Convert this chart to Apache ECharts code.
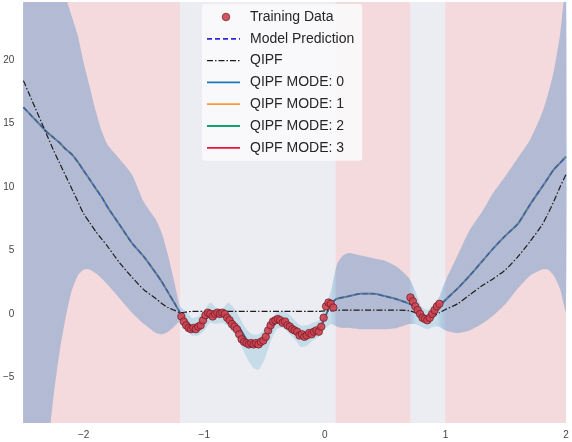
<!DOCTYPE html>
<html>
<head>
<meta charset="utf-8">
<script src="https://cdn.jsdelivr.net/npm/echarts@6/dist/echarts.min.js"></script>
<style>
  html, body { margin: 0; padding: 0; background: #fff; }
  #chart { width: 572px; height: 442px; }
</style>
</head>
<body>
<div id="chart"></div>
<script>
// x grid for the curves
const xs = [
  -2.5, -2.45, -2.4, -2.35, -2.3, -2.25, -2.2, -2.15, -2.1, -2.05,
  -2.0, -1.95, -1.9, -1.85, -1.8, -1.7, -1.6, -1.5, -1.4, -1.35,
  -1.3, -1.25, -1.2, -1.15, -1.1, -1.05, -1.0, -0.95, -0.9, -0.85,
  -0.8, -0.75, -0.7, -0.65, -0.6, -0.55, -0.5, -0.45, -0.4, -0.35,
  -0.3, -0.25, -0.2, -0.15, -0.1, -0.05, 0.0, 0.05, 0.1, 0.15,
  0.2, 0.3, 0.4, 0.5, 0.6, 0.7, 0.75, 0.8, 0.85, 0.9,
  0.95, 1.0, 1.1, 1.2, 1.3, 1.4, 1.5, 1.6, 1.7, 1.8,
  1.85, 1.9, 1.95, 2.0
];
// uncertainty band
const bandUpper = [
  45, 40, 36, 33, 30, 28, 26.5, 25.0, 23.5, 22.0,
  19.8, 17.9, 16.0, 14.4, 13.3, 12.2, 11.0, 8.8, 7.4, 6.3,
  4.6, 2.6, 0.6, 0.2, -0.3, -0.2, 0.3, 0.9, 0.5, 0.4,
  0.9, 0.4, -0.4, -1.2, -1.6, -1.6, -1.2, -0.5, 0.1, 0.2,
  0.0, -0.5, -0.9, -0.9, -0.7, -0.5, 0.5, 1.8, 3.9, 4.6,
  4.8, 4.6, 4.4, 4.2, 3.7, 2.8, 1.8, 0.6, 0.3, 0.7,
  1.4, 2.6, 4.6, 6.6, 8.0, 9.6, 10.9, 12.3, 13.7, 15.8,
  17.3, 19.2, 22.0, 26.0
];
const bandLower = [
  -40, -32, -24, -17, -11, -6.5, -3.0, -0.3, 1.8, 3.0,
  3.5, 3.5, 3.2, 2.8, 2.3, 1.2, 0.1, -0.8, -1.5, -1.6,
  -1.4, -1.0, -0.6, -1.2, -1.7, -1.7, -1.3, -0.7, -0.8, -0.7,
  -1.0, -1.6, -2.4, -3.4, -4.2, -4.4, -3.6, -2.2, -1.2, -1.1,
  -1.5, -2.0, -2.6, -2.5, -2.1, -1.8, -1.2, -0.8, -1.0, -1.1,
  -1.1, -1.2, -1.2, -1.2, -1.1, -0.8, -0.8, -1.0, -1.2, -1.0,
  -1.0, -1.3, -1.5, -1.3, -0.8, -0.1, 0.8, 2.0, 3.0, 3.5,
  3.5, 3.0, 2.0, 0.2
];
const predY = [
  16.3, 15.8, 15.3, 14.8, 14.3, 13.9, 13.5, 13.0, 12.6, 12.0,
  11.3, 10.6, 9.9, 9.2, 8.4, 7.0, 5.6, 4.5, 3.2, 2.5,
  1.7, 0.9, 0.1, -0.5, -1.0, -1.0, -0.6, 0.0, -0.1, 0.0,
  -0.2, -0.7, -1.2, -2.0, -2.3, -2.3, -2.0, -1.2, -0.5, -0.5,
  -0.8, -1.2, -1.6, -1.6, -1.4, -1.2, -0.3, 0.8, 1.2, 1.3,
  1.4, 1.6, 1.6, 1.4, 1.15, 0.8, 0.5, -0.1, -0.5, 0.0,
  0.6, 1.1, 2.0, 3.0, 4.1, 5.2, 6.2, 7.1, 8.6, 10.0,
  10.7, 11.4, 11.9, 12.4
];
const qipfY = [
  18.4, 17.3, 16.2, 15.1, 14.0, 12.9, 11.9, 10.9, 9.9, 8.9,
  7.9, 7.2, 6.5, 5.9, 5.3, 4.0, 2.9, 1.9, 1.2, 0.8,
  0.5, 0.3, 0.1, 0.15, 0.2, 0.2, 0.2, 0.2, 0.2, 0.2,
  0.2, 0.2, 0.2, 0.2, 0.2, 0.2, 0.2, 0.2, 0.2, 0.2,
  0.2, 0.2, 0.2, 0.2, 0.2, 0.2, 0.25, 0.25, 0.3, 0.3,
  0.3, 0.3, 0.3, 0.3, 0.3, 0.25, 0.1, -0.2, -0.4, -0.2,
  0.1, 0.35, 0.8, 1.5, 2.2, 2.8, 3.5, 4.5, 5.7, 7.0,
  7.9, 8.9, 10.0, 11.0
];
// training data
const trainX = [
  -1.19, -1.17, -1.15, -1.13, -1.11, -1.09, -1.07, -1.05, -1.03, -1.01,
  -0.99, -0.97, -0.95, -0.93, -0.91, -0.89, -0.87, -0.85, -0.83, -0.81,
  -0.79, -0.77, -0.75, -0.73, -0.71, -0.69, -0.67, -0.65, -0.63, -0.61,
  -0.59, -0.57, -0.55, -0.53, -0.51, -0.49, -0.47, -0.45, -0.43, -0.41,
  -0.39, -0.37, -0.35, -0.33, -0.31, -0.29, -0.27, -0.25, -0.23, -0.21,
  -0.19, -0.17, -0.15, -0.13, -0.11, -0.09, -0.07, -0.05, -0.03, -0.01,
  0.01, 0.03, 0.05, 0.07,
  0.71, 0.73, 0.75, 0.77, 0.79, 0.81, 0.83, 0.85, 0.87, 0.89, 0.91, 0.93, 0.95
];
const trainY = [
  -0.2, -0.6, -0.9, -1.1, -1.2, -1.1, -1.2, -1.0, -0.9, -0.5,
  -0.1, 0.1, 0.0, -0.2, 0.0, 0.1, 0.0, 0.1, 0.0, -0.3,
  -0.5, -0.8, -1.0, -1.2, -1.6, -2.0, -2.2, -2.3, -2.4, -2.3,
  -2.4, -2.3, -2.4, -2.2, -2.1, -1.8, -1.3, -0.9, -0.6, -0.5,
  -0.4, -0.5, -0.7, -0.6, -0.9, -1.0, -1.2, -1.3, -1.4, -1.7,
  -1.6, -1.8, -1.7, -1.5, -1.6, -1.4, -1.3, -1.4, -1.0, -0.3,
  0.6, 0.9, 0.8, 0.5,
  1.3, 1.0, 0.6, 0.3, 0.0, -0.3, -0.4, -0.5, -0.3, 0.0, 0.3, 0.6, 0.8
];
// shaded regions along x (pink / grey alternating)
const regionEdges = [-2.5, -1.2, 0.09, 0.71, 1.0, 2.0];
const legendNames = ['Training Data', 'Model Prediction', 'QIPF',
  'QIPF MODE: 0', 'QIPF MODE: 1', 'QIPF MODE: 2', 'QIPF MODE: 3'];

const pairs = ys => xs.map((x, i) => [x, ys[i]]);
const FONT = 'Liberation Sans';
const minus = v => String(v).replace('-', '\u2212');
const X0 = xs[0], X1 = xs[xs.length - 1];
const off = x => (x - X0) / (X1 - X0);

const regions = [];
for (let i = 0; i < regionEdges.length - 1; i++) {
  regions.push([
    { xAxis: regionEdges[i], itemStyle: { color: i % 2 === 0 ? '#f4d9dd' : '#ecedf3' } },
    { xAxis: regionEdges[i + 1] }
  ]);
}

// band is lighter (cyan) where the training data sits
const bandDark = 'rgba(100,150,200,0.45)';
const bandLight = 'rgba(150,200,220,0.45)';
const bandFill = new echarts.graphic.LinearGradient(0, 0, 1, 0, [
  { offset: 0, color: bandDark },
  { offset: off(-1.23), color: bandDark },
  { offset: off(-1.16), color: bandLight },
  { offset: off(0.04), color: bandLight },
  { offset: off(0.1), color: bandDark },
  { offset: off(0.71), color: bandDark },
  { offset: off(0.76), color: bandLight },
  { offset: off(0.92), color: bandLight },
  { offset: off(0.98), color: bandDark },
  { offset: 1, color: bandDark }
]);

// legend icons as small svg images
function svgIcon(inner) {
  return 'image://data:image/svg+xml;charset=utf-8,' + encodeURIComponent(
    "<svg xmlns='http://www.w3.org/2000/svg' width='33' height='14'>" + inner + '</svg>');
}
function lineIcon(color, width, dash) {
  return svgIcon("<line x1='0' y1='7' x2='33' y2='7' stroke='" + color + "' stroke-width='" + width + "'" +
    (dash ? " stroke-dasharray='" + dash + "'" : '') + '/>');
}

const modeColors = ['#1f77b4', '#ff9a3c', '#12a36c', '#e3173f'];
const modeOpacity = [0.6, 0.15, 0.45, 0.15];
const legendIcons = [
  svgIcon("<circle cx='19' cy='7' r='3.8' fill='#cd4452' stroke='#6d1822' stroke-width='0.8'/>"),
  lineIcon('#2b2bd9', 1.8, '5,3'),
  lineIcon('#1c1c1c', 1.2, '6,2,1.5,2'),
].concat(modeColors.map(c => lineIcon(c, 1.8)));

const modeSeries = modeColors.map((c, k) => ({
  name: legendNames[3 + k],
  type: 'line',
  data: pairs(predY),
  smooth: 0.25,
  symbol: 'none',
  z: 3,
  lineStyle: { color: c, width: 1.8, opacity: modeOpacity[k] },
  itemStyle: { color: c }
}));

const chart = echarts.init(document.getElementById('chart'));
chart.setOption({
  animation: false,
  grid: { left: 22, right: 6, top: 2, bottom: 19, show: true, backgroundColor: '#ecedf3', borderWidth: 0 },
  xAxis: {
    type: 'value', min: -2.5, max: 2,
    axisLine: { show: false }, axisTick: { show: false }, splitLine: { show: false },
    axisLabel: { showMinLabel: false, margin: 7, fontSize: 10, color: '#444', fontFamily: FONT, formatter: minus }
  },
  yAxis: {
    type: 'value', min: -8.6, max: 24.6, splitNumber: 6,
    axisLine: { show: false }, axisTick: { show: false }, splitLine: { show: false },
    axisLabel: { showMinLabel: false, showMaxLabel: false, margin: 9, fontSize: 10, color: '#444', fontFamily: FONT, formatter: minus }
  },
  legend: {
    orient: 'vertical', left: 202, top: 4,
    padding: [6, 8, 6, 5],
    itemWidth: 33, itemHeight: 14, itemGap: 7.8,
    backgroundColor: 'rgba(250,250,252,0.88)', borderRadius: 3,
    textStyle: { fontSize: 14, color: '#262626', fontFamily: FONT, padding: [0, 0, 0, 5] },
    data: legendNames.map((n, i) => ({ name: n, icon: legendIcons[i] }))
  },
  series: [
    {
      name: 'band', type: 'custom', z: 2, silent: true, clip: true,
      data: xs.map((x, i) => [x, bandUpper[i], bandLower[i]]),
      encode: { x: 0, y: [1, 2] },
      renderItem: (params, api) => {
        if (params.dataIndex !== 0) return null;
        const top = xs.map((x, i) => api.coord([x, bandUpper[i]]));
        const bottom = xs.map((x, i) => api.coord([x, bandLower[i]])).reverse();
        return {
          type: 'polygon',
          shape: { points: top.concat(bottom), smooth: 0.2 },
          style: { fill: bandFill }
        };
      },
      markArea: { silent: true, z: 1, data: regions }
    },
    ...modeSeries,
    {
      name: legendNames[2], type: 'line', data: pairs(qipfY), smooth: 0.25, symbol: 'none', z: 4,
      lineStyle: { color: '#1c1c1c', width: 1.2, type: [6, 2, 1.5, 2] },
      itemStyle: { color: '#1c1c1c' }
    },
    {
      name: legendNames[1], type: 'line', data: pairs(predY), smooth: 0.25, symbol: 'none', z: 4,
      lineStyle: { color: '#2b2bd9', width: 1.5, type: [5, 3], opacity: 0.5 },
      itemStyle: { color: '#2b2bd9' }
    },
    {
      name: legendNames[0], type: 'scatter', z: 5,
      data: trainX.map((x, i) => [x, trainY[i]]),
      symbolSize: 7.5,
      itemStyle: { color: '#cd4452', borderColor: '#6d1822', borderWidth: 0.8, opacity: 0.9 }
    }
  ]
});
</script>
</body>
</html>
